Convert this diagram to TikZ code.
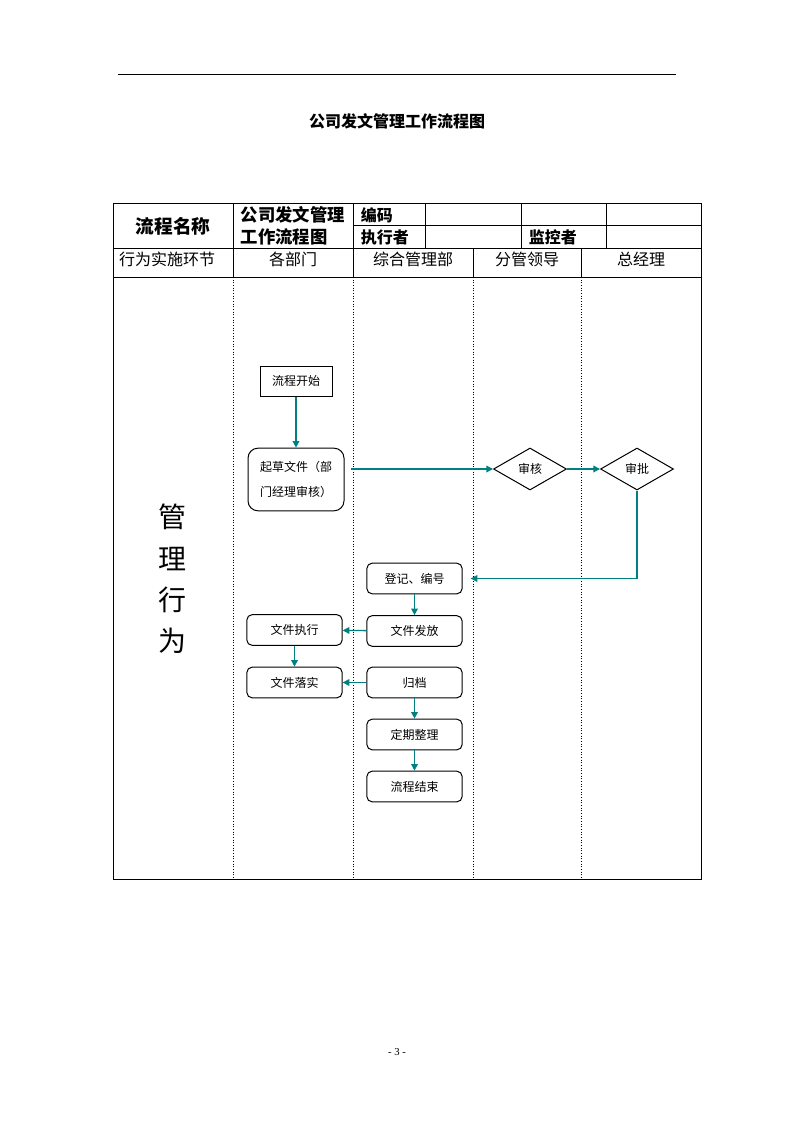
\documentclass[tikz,border=0pt]{standalone}
\usepackage{fontspec}
\setmainfont{Liberation Serif}
\newfontfamily\cjk{Noto Sans CJK SC}
\usetikzlibrary{shapes.geometric,arrows.meta,positioning}
\definecolor{flowteal}{RGB}{0,128,128}

\begin{document}
\begin{tikzpicture}[x=0.75pt,y=-0.75pt,line width=0.75pt,
  procbox/.style={draw,rounded corners=4pt,minimum width=71.5pt,minimum height=23pt,
    inner sep=0pt,font=\cjk\fontsize{9}{11}\selectfont},
  startbox/.style={procbox,sharp corners,minimum width=54pt,minimum height=22.5pt},
  checknode/.style={draw,diamond,inner sep=0pt,minimum width=54.75pt,minimum height=31.5pt,
    font=\cjk\fontsize{9}{11}\selectfont},
  flow/.style={draw=flowteal,line width=1pt,-{Triangle[length=5pt,width=5pt]}},
  lane/.style={dash pattern=on 0.8pt off 1.2pt},
  headtxt/.style={font=\cjk\fontsize{12}{14}\selectfont},
  keytxt/.style={font=\cjk\bfseries\fontsize{12}{14}\selectfont,anchor=west}]

  \useasboundingbox (0,0) rectangle (794,1123);

  % page rule and title
  \draw (118,75) coordinate (ruleL) -- (676,75) coordinate (ruleR);
  \node[font=\cjk\bfseries\fontsize{12}{14}\selectfont] (title) at (397,121) {公司发文管理工作流程图};

  % table frame
  \draw (113,204) rectangle (701,879);
  \draw (353,226) -- (701,226)
        (113,248) -- (701,248)
        (113,277) -- (701,277);
  \draw (233,204) -- (233,277) (353,204) -- (353,277)
        (425,204) -- (425,248) (521,204) -- (521,248) (606,204) -- (606,248)
        (473,248) -- (473,277) (581,248) -- (581,277);

  % swim lanes
  \foreach \lx in {233,353,473,581}
    \draw[lane] (\lx,277) -- (\lx,879);

  % table head
  \node[font=\cjk\bfseries\fontsize{14}{16}\selectfont] (pname) at (173,226) {流程名称};
  \node[keytxt,font=\cjk\bfseries\fontsize{13}{15}\selectfont] (pnameA) at (236,215) {公司发文管理};
  \node[keytxt,font=\cjk\bfseries\fontsize{13}{15}\selectfont] (pnameB) at (236,237) {工作流程图};
  \node[keytxt] (code) at (356,215) {编码};
  \node[keytxt] (doer) at (356,237) {执行者};
  \node[keytxt] (watch) at (524,237) {监控者};

  \node[headtxt] (hstep) at (167,259) {行为实施环节};
  \node[headtxt] (hdept) at (293,259) {各部门};
  \node[headtxt] (hadmin) at (413,259) {综合管理部};
  \node[headtxt] (hlead) at (527,259) {分管领导};
  \node[headtxt] (hboss) at (641,259) {总经理};

  \node[font=\cjk\fontsize{21}{31}\selectfont,align=center] (mgmt) at (172,579) {管\\理\\行\\为};

  % flow nodes
  \node[startbox] (start) at (296,381) {流程开始};
  \node[procbox,rounded corners=7.5pt,minimum width=72pt,minimum height=47pt,
    align=left,font=\cjk\fontsize{9}{18.5}\selectfont] (draft) at (296,479.5) {起草文件（部\\门经理审核）};
  \node[checknode] (review) at (530,469) {审核};
  \node[checknode] (approve) at (637,469) {审批};
  \node[procbox] (register) at (414.5,578.5) {登记、编号};
  \node[procbox] (issue) at (414.5,631) {文件发放};
  \node[procbox] (execute) at (294.5,630) {文件执行};
  \node[procbox] (implement) at (294.5,682.5) {文件落实};
  \node[procbox] (archive) at (414.5,682.5) {归档};
  \node[procbox] (sort) at (414.5,734.5) {定期整理};
  \node[procbox] (finish) at (414.5,786.5) {流程结束};

  % draw connectors
  \draw[flow] (start) -- (draft);
  \draw[flow,shorten <=4.5pt] (draft.east |- review.west) -- (review.west);
  \draw[flow] (review) -- (approve);
  \draw[flow,shorten >=6pt] (approve.south) |- (register.east);
  \draw[flow] (register) -- (issue);
  \draw[flow] (issue) -- (execute);
  \draw[flow] (execute) -- (implement);
  \draw[flow] (archive) -- (implement);
  \draw[flow] (archive) -- (sort);
  \draw[flow] (sort) -- (finish);

  % page number
  \node[font=\fontsize{8}{10}\selectfont] (pageno) at (397,1052) {- 3 -};
\end{tikzpicture}
\end{document}
